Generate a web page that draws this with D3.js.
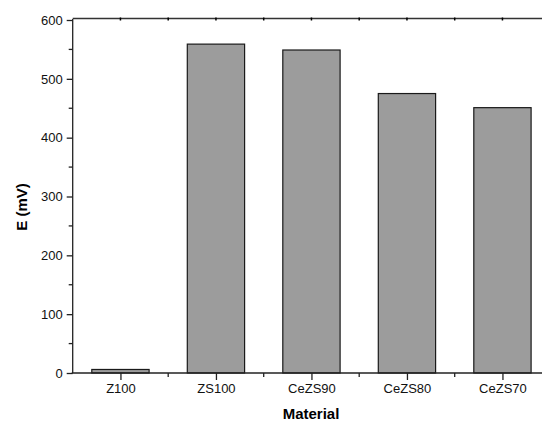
<!DOCTYPE html>
<html><head><meta charset="utf-8">
<script src="https://cdn.jsdelivr.net/npm/d3@7"></script>
<style>body{margin:0;background:#fff}svg{display:block}</style>
</head><body>
<svg id="c" width="542" height="423"></svg>
<script>
const categories = ["Z100","ZS100","CeZS90","CeZS80","CeZS70"];
const values = [6, 559, 549, 475, 451];
const yTicks = [0,100,200,300,400,500,600];

(function(){
const svg = d3.select("#c");
const mLeft = 72.7, mTop = 20, mBottom = 373;
const step = 95.5;
const x = d3.scaleLinear().domain([0.5, 5.5]).range([mLeft, mLeft + step*5]);
const y = d3.scaleLinear().domain([0, 600]).range([mBottom, mTop]);
const font = "'Liberation Sans', Arial, sans-serif";

// bars
svg.append("g").selectAll("rect").data(values).join("rect")
  .attr("x", (d,i) => x(i+1) - step*0.3)
  .attr("width", step*0.6)
  .attr("y", d => y(d))
  .attr("height", d => y(0) - y(d))
  .attr("fill", "#9c9c9c")
  .attr("stroke", "#1a1a1a")
  .attr("stroke-width", 1.2);

// Y axis
const yAxis = d3.axisLeft(y).tickValues(yTicks).tickSize(6).tickPadding(4);
const gy = svg.append("g").attr("transform", `translate(${mLeft},0)`).call(yAxis);
gy.select(".domain").attr("d", `M0,${mBottom}V${mTop-1}`).attr("stroke", "#222").attr("stroke-width", 1.3);
gy.selectAll(".tick line").attr("stroke", "#222").attr("stroke-width", 1.3);
gy.selectAll(".tick text").attr("font-family", font).attr("font-size", 13).attr("fill", "#111");
const yMinor = d3.range(50, 600, 100);
svg.append("g").selectAll("line").data(yMinor).join("line")
  .attr("x1", mLeft - 4).attr("x2", mLeft)
  .attr("y1", d => y(d)).attr("y2", d => y(d))
  .attr("stroke", "#222").attr("stroke-width", 1.3);

// X axis
const xAxis = d3.axisBottom(x).tickValues(d3.range(1,6)).tickFormat(d => categories[d-1]).tickSize(7).tickPadding(4);
const gx = svg.append("g").attr("transform", `translate(0,${mBottom})`).call(xAxis);
gx.select(".domain").attr("d", `M${mLeft-1},0H${x(5.5)}`).attr("stroke", "#222").attr("stroke-width", 1.3);
gx.selectAll(".tick line").attr("stroke", "#222").attr("stroke-width", 1.3);
gx.selectAll(".tick text").attr("font-family", font).attr("font-size", 13).attr("fill", "#111");
const xMinor = d3.range(1.5, 5.5, 1);
svg.append("g").selectAll("line").data(xMinor).join("line")
  .attr("x1", d => x(d)).attr("x2", d => x(d))
  .attr("y1", mBottom).attr("y2", mBottom + 4)
  .attr("stroke", "#222").attr("stroke-width", 1.3);

// top axis line with small inward ticks
svg.append("line").attr("x1", mLeft).attr("x2", x(5.5)).attr("y1", mTop-1.5).attr("y2", mTop-1.5)
  .attr("stroke", "#333").attr("stroke-width", 1.5);
const topTicks = d3.range(1, 5.6, 0.5);
svg.append("g").selectAll("line").data(topTicks).join("line")
  .attr("x1", d => x(d)).attr("x2", d => x(d))
  .attr("y1", mTop-2.5).attr("y2", mTop+0.5)
  .attr("stroke", "#000").attr("stroke-width", 1.5);

// labels
svg.append("text").attr("x", 311).attr("y", 419).attr("text-anchor", "middle")
  .attr("font-family", font).attr("font-size", 15).attr("font-weight", "bold").text("Material");
svg.append("text").attr("transform", "translate(27,207) rotate(-90)").attr("text-anchor", "middle")
  .attr("font-family", font).attr("font-size", 15).attr("font-weight", "bold").text("E (mV)");
})();
</script>
</body></html>
